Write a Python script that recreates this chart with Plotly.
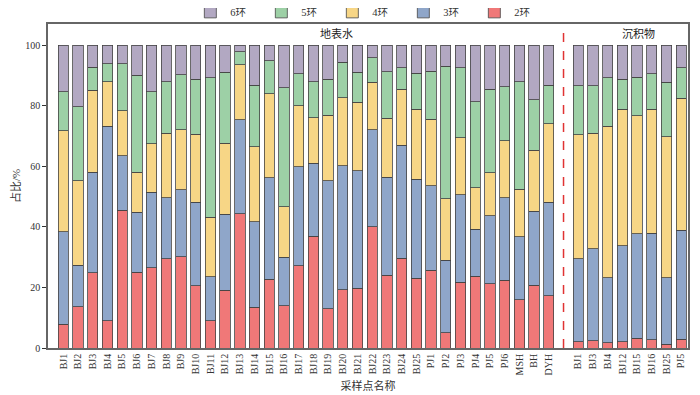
import plotly.graph_objects as go

surface_sites = ["BJ1","BJ2","BJ3","BJ4","BJ5","BJ6","BJ7","BJ8","BJ9","BJ10","BJ11","BJ12","BJ13",
                 "BJ14","BJ15","BJ16","BJ17","BJ18","BJ19","BJ20","BJ21","BJ22","BJ23","BJ24","BJ25",
                 "PJ1","PJ2","PJ3","PJ4","PJ5","PJ6","MSH","BH","DYH"]
sediment_sites = ["BJ1","BJ3","BJ4","BJ12","BJ15","BJ16","BJ25","PJ5"]

# percentages per ring count (surface water)
ring2_surface = [7.8,13.7,24.9,9.0,45.5,25.0,26.5,29.5,30.1,20.5,9.0,19.1,44.4,13.4,22.7,14.0,27.2,
                 36.9,13.0,19.3,19.8,40.0,24.0,29.7,23.0,25.7,5.1,21.7,23.7,21.3,22.4,16.0,20.7,17.3]
ring3_surface = [30.6,13.7,33.2,64.3,18.0,19.8,24.9,20.2,22.1,27.6,14.5,25.1,31.0,28.3,33.6,16.0,32.6,
                 24.1,42.3,40.9,38.7,32.1,32.4,37.2,32.8,27.9,23.9,28.9,15.5,22.4,27.3,20.8,24.5,30.9]
ring4_surface = [33.4,27.8,27.1,14.6,14.9,13.3,16.0,21.2,19.9,22.5,19.6,23.5,18.1,24.8,27.7,16.6,20.2,
                 15.1,21.5,22.5,22.6,15.6,19.5,18.5,23.1,22.0,20.3,18.8,13.8,14.2,18.8,15.7,20.1,25.9]
ring5_surface = [12.9,24.4,7.5,5.9,15.4,32.0,17.2,17.0,18.2,18.2,46.1,23.4,4.3,20.2,10.9,39.4,10.6,
                 11.8,11.9,11.7,9.9,8.2,15.4,7.2,11.8,15.8,43.8,23.1,28.4,27.6,17.7,35.4,16.7,12.6]
ring6_surface = [15.3,20.4,7.3,6.2,6.2,9.9,15.4,12.1,9.7,11.2,10.8,8.9,2.2,13.3,5.1,14.0,9.4,
                 12.1,11.3,5.6,9.0,4.1,8.7,7.4,9.3,8.6,6.9,7.5,18.6,14.5,13.8,12.1,18.0,13.3]

# sediment
ring2_sed = [2.1,2.4,1.8,2.1,3.3,2.8,1.2,2.9]
ring3_sed = [27.4,30.3,21.4,31.6,34.5,35.1,22.0,36.0]
ring4_sed = [41.0,38.3,50.0,45.2,38.9,41.0,46.6,43.5]
ring5_sed = [16.1,15.6,16.0,9.9,12.7,11.7,17.9,10.2]
ring6_sed = [13.4,13.4,10.8,11.2,10.6,9.4,12.3,7.4]

series_names = ["2环","3环","4环","5环","6环"]
colors = ["#f07878","#8fa6c9","#f7d686","#9dd0a6","#b2a8c2"]

n_s = len(surface_sites)
x_surface = list(range(n_s))
gap_pos = n_s
x_sed = [n_s + 1 + i for i in range(len(sediment_sites))]
x_all = x_surface + x_sed
labels_all = surface_sites + sediment_sites

data = [
    ring2_surface + ring2_sed,
    ring3_surface + ring3_sed,
    ring4_surface + ring4_sed,
    ring5_surface + ring5_sed,
    ring6_surface + ring6_sed,
]

font_family = "Liberation Serif, Noto Sans CJK SC, serif"

fig = go.Figure()
for name, vals, c in zip(series_names, data, colors):
    fig.add_trace(go.Bar(
        x=x_all, y=vals, name=name, width=0.7,
        marker=dict(color=c, line=dict(color="#444444", width=0.8)),
    ))

fig.update_layout(
    barmode="stack",
    width=692, height=387,
    margin=dict(l=40, r=12, t=16, b=47, autoexpand=False),
    paper_bgcolor="white", plot_bgcolor="white",
    font=dict(family=font_family, size=10, color="#333333"),
    legend=dict(orientation="h", traceorder="reversed", x=0.52, xanchor="center",
                xref="container", yref="container",
                y=0.99, yanchor="middle", font=dict(size=10.5), itemwidth=30,
                entrywidth=26, entrywidthmode="pixels",
                bgcolor="rgba(0,0,0,0)"),
    showlegend=True,
)
fig.update_xaxes(
    range=[-1.04, len(x_all) + 0.46],
    tickmode="array", tickvals=x_all, ticktext=labels_all, tickangle=-90,
    showline=True, linecolor="#666666", linewidth=1.5, mirror=True,
    showgrid=False, zeroline=False, ticks="", automargin=False,
    title=dict(text="采样点名称", font=dict(size=11), standoff=8),
    tickfont=dict(size=10, color="#333333"),
)
fig.update_yaxes(
    range=[0, 107], tickvals=[0,20,40,60,80,100],
    showline=True, linecolor="#666666", linewidth=1.5, mirror=True,
    showgrid=False, zeroline=False, ticks="outside", ticklen=4, tickcolor="#333333",
    automargin=False,
    title=dict(text="占比/%", font=dict(size=11), standoff=2),
    tickfont=dict(size=10, color="#333333"),
)

fig.add_shape(type="line", xref="x", yref="y", x0=gap_pos, x1=gap_pos, y0=0, y1=106,
              line=dict(color="#e03333", width=1.5, dash="dash"))
fig.add_annotation(text="地表水", xref="x", yref="y", x=18.6, y=104, showarrow=False,
                   font=dict(size=11, color="#222222"))
fig.add_annotation(text="沉积物", xref="x", yref="y", x=39.1, y=104, showarrow=False,
                   font=dict(size=11, color="#222222"))

fig.write_html("out.html")
